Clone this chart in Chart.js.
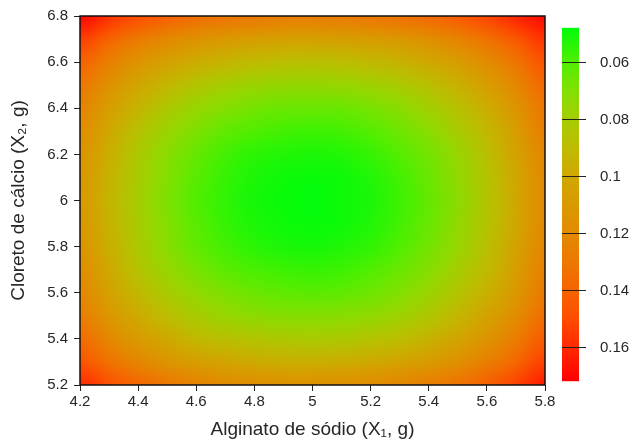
<!DOCTYPE html>
<html><head><meta charset="utf-8">
<script src="https://cdn.jsdelivr.net/npm/chart.js@4.4.1/dist/chart.umd.min.js"></script>
<style>html,body{margin:0;padding:0;background:#fff;}canvas{display:block;}</style>
</head><body>
<canvas id="c" width="631" height="442"></canvas>
<script>
// ---- data ----
const xValues = [4.2,4.3,4.4,4.5,4.6,4.7,4.8,4.9,5.0,5.1,5.2,5.3,5.4,5.5,5.6,5.7,5.8];
const yValues = [5.2,5.3,5.4,5.5,5.6,5.7,5.8,5.9,6.0,6.1,6.2,6.3,6.4,6.5,6.6,6.7,6.8];
// zValues[row j -> yValues[j]][col i -> xValues[i]]
const zValues = [
 [0.161,0.148,0.139,0.131,0.125,0.120,0.118,0.116,0.116,0.117,0.119,0.122,0.127,0.133,0.142,0.153,0.165],
 [0.147,0.133,0.122,0.113,0.107,0.103,0.099,0.097,0.097,0.098,0.100,0.104,0.109,0.116,0.126,0.138,0.154],
 [0.137,0.121,0.109,0.100,0.092,0.088,0.085,0.083,0.082,0.083,0.086,0.089,0.095,0.103,0.114,0.127,0.144],
 [0.128,0.112,0.099,0.089,0.081,0.076,0.073,0.071,0.071,0.072,0.074,0.078,0.084,0.093,0.104,0.118,0.136],
 [0.122,0.105,0.092,0.081,0.074,0.069,0.065,0.063,0.062,0.063,0.066,0.070,0.077,0.085,0.096,0.111,0.130],
 [0.118,0.100,0.086,0.076,0.068,0.062,0.059,0.057,0.056,0.057,0.060,0.065,0.071,0.080,0.091,0.107,0.126],
 [0.115,0.097,0.083,0.072,0.063,0.058,0.054,0.052,0.051,0.053,0.055,0.060,0.067,0.076,0.088,0.104,0.123],
 [0.113,0.095,0.081,0.070,0.062,0.056,0.052,0.050,0.049,0.050,0.053,0.058,0.065,0.074,0.086,0.101,0.121],
 [0.112,0.094,0.080,0.069,0.060,0.055,0.051,0.049,0.048,0.050,0.052,0.057,0.064,0.073,0.085,0.101,0.120],
 [0.113,0.095,0.081,0.070,0.062,0.056,0.052,0.050,0.049,0.050,0.053,0.058,0.065,0.074,0.086,0.101,0.121],
 [0.115,0.097,0.083,0.072,0.064,0.058,0.054,0.053,0.052,0.053,0.056,0.061,0.067,0.076,0.088,0.104,0.123],
 [0.119,0.101,0.087,0.077,0.069,0.063,0.060,0.058,0.057,0.058,0.061,0.066,0.072,0.081,0.092,0.108,0.127],
 [0.124,0.107,0.094,0.083,0.076,0.071,0.067,0.065,0.065,0.065,0.068,0.072,0.079,0.087,0.098,0.113,0.132],
 [0.131,0.115,0.102,0.093,0.085,0.080,0.077,0.075,0.075,0.076,0.078,0.082,0.088,0.096,0.107,0.121,0.139],
 [0.141,0.126,0.114,0.105,0.098,0.094,0.091,0.089,0.088,0.089,0.092,0.095,0.101,0.108,0.119,0.131,0.148],
 [0.155,0.140,0.129,0.121,0.115,0.111,0.108,0.106,0.106,0.107,0.109,0.112,0.117,0.124,0.133,0.145,0.158],
 [0.172,0.158,0.149,0.142,0.136,0.132,0.130,0.128,0.128,0.129,0.131,0.134,0.138,0.144,0.152,0.162,0.170]
];
const xTicks = [4.2,4.4,4.6,4.8,5.0,5.2,5.4,5.6,5.8];
const xTickLabels = ['4.2','4.4','4.6','4.8','5','5.2','5.4','5.6','5.8'];
const yTicks = [5.2,5.4,5.6,5.8,6.0,6.2,6.4,6.6,6.8];
const yTickLabels = ['5.2','5.4','5.6','5.8','6','6.2','6.4','6.6','6.8'];
const cbTicks = [0.06,0.08,0.10,0.12,0.14,0.16];
const cbTickLabels = ['0.06','0.08','0.1','0.12','0.14','0.16'];
const cbRange = [0.048, 0.172];
const xTitle = 'Alginato de sódio (X\u2081, g)';
const yTitle = 'Cloreto de cálcio (X\u2082, g)';
// palette (value -> colour)
const palValues = [0.048,0.06,0.07,0.08,0.09,0.10,0.11,0.12,0.13,0.14,0.15,0.16,0.172];
const palColors = [[0,252,10],[80,238,0],[130,224,0],[165,205,0],[190,188,0],[207,168,0],[217,154,0],[227,138,0],[237,120,0],[246,100,0],[255,76,0],[255,42,0],[255,0,0]];

const FONT = "'Liberation Sans', Arial, sans-serif";
const TEXT = '#262626';

function colorOf(v){
  const n = palValues.length;
  if (v <= palValues[0]) return palColors[0];
  if (v >= palValues[n-1]) return palColors[n-1];
  for (let k=1;k<n;k++){
    if (v <= palValues[k]){
      const t=(v-palValues[k-1])/(palValues[k]-palValues[k-1]);
      const a=palColors[k-1], b=palColors[k];
      return [a[0]+(b[0]-a[0])*t, a[1]+(b[1]-a[1])*t, a[2]+(b[2]-a[2])*t];
    }
  }
}
const rgb = c => `rgb(${Math.round(c[0])},${Math.round(c[1])},${Math.round(c[2])})`;

const heatmap = {
  id:'heatmap',
  beforeDatasetsDraw(chart){
    const {ctx, chartArea:a, scales:{x,y}} = chart;
    const nx=xValues.length, ny=yValues.length;
    const off=document.createElement('canvas'); off.width=nx; off.height=ny;
    const octx=off.getContext('2d'); const img=octx.createImageData(nx,ny);
    for (let j=0;j<ny;j++) for (let i=0;i<nx;i++){
      const row=ny-1-j, c=colorOf(zValues[j][i]), k=(row*nx+i)*4;
      img.data[k]=c[0]; img.data[k+1]=c[1]; img.data[k+2]=c[2]; img.data[k+3]=255;
    }
    octx.putImageData(img,0,0);
    const hx=(xValues[1]-xValues[0])/2, hy=(yValues[1]-yValues[0])/2;
    const x0=x.getPixelForValue(xValues[0]-hx), x1=x.getPixelForValue(xValues[nx-1]+hx);
    const y0=y.getPixelForValue(yValues[ny-1]+hy), y1=y.getPixelForValue(yValues[0]-hy);
    ctx.save();
    ctx.beginPath(); ctx.rect(a.left,a.top,a.right-a.left,a.bottom-a.top); ctx.clip();
    ctx.imageSmoothingEnabled=true; ctx.imageSmoothingQuality='high';
    ctx.drawImage(off,x0,y0,x1-x0,y1-y0);
    ctx.restore();
  },
  afterDraw(chart){
    const {ctx, chartArea:a, scales:{yc}} = chart;
    ctx.save();
    ctx.strokeStyle='#111'; ctx.lineWidth=1.5;
    ctx.strokeRect(a.left,a.top,a.right-a.left,a.bottom-a.top);
    // colour bar
    const bx=a.right+17, bw=17;
    const top=yc.getPixelForValue(cbRange[0]), bot=yc.getPixelForValue(cbRange[1]);
    const g=ctx.createLinearGradient(0,top,0,bot);
    for (let k=0;k<palValues.length;k++){
      const t=(palValues[k]-cbRange[0])/(cbRange[1]-cbRange[0]);
      g.addColorStop(Math.min(1,Math.max(0,t)), rgb(palColors[k]));
    }
    ctx.fillStyle=g; ctx.fillRect(bx,top,bw,bot-top);
    ctx.strokeStyle='#222'; ctx.lineWidth=1;
    ctx.fillStyle=TEXT; ctx.font='15px '+FONT; ctx.textAlign='left'; ctx.textBaseline='middle';
    cbTicks.forEach((v,i)=>{
      const py=Math.round(yc.getPixelForValue(v))+0.5;
      ctx.beginPath(); ctx.moveTo(bx,py); ctx.lineTo(bx+24,py); ctx.stroke();
      ctx.fillText(cbTickLabels[i], a.right+55, py);
    });
    ctx.restore();
  }
};

Chart.defaults.font.family = FONT;
Chart.defaults.color = TEXT;

new Chart(document.getElementById('c'), {
  type:'scatter',
  data:{datasets:[{data:[]}]},
  options:{
    responsive:false, animation:false,
    layout:{padding:{top:16,left:0,right:0,bottom:0}},
    plugins:{legend:{display:false}, tooltip:{enabled:false}},
    scales:{
      x:{type:'linear', min:4.2, max:5.8,
        afterBuildTicks:s=>{s.ticks=xTicks.map(v=>({value:v}));},
        afterFit:s=>{s.height=57;},
        ticks:{font:{size:15}, padding:2, maxRotation:0, autoSkip:false,
          callback:(v,i)=>xTickLabels[i]},
        grid:{display:true, drawOnChartArea:false, drawTicks:true, tickLength:6, color:'#222'},
        border:{display:false},
        title:{display:true, text:xTitle, font:{size:19}, padding:{top:0,bottom:1}}
      },
      y:{type:'linear', min:5.2, max:6.8,
        afterBuildTicks:s=>{s.ticks=yTicks.map(v=>({value:v}));},
        afterFit:s=>{s.width=80;},
        ticks:{font:{size:15}, padding:6, autoSkip:false,
          callback:(v,i)=>yTickLabels[i]},
        grid:{display:true, drawOnChartArea:false, drawTicks:true, tickLength:6, color:'#222'},
        border:{display:false},
        title:{display:true, text:yTitle, font:{size:19}, padding:{top:7,bottom:0}}
      },
      yc:{type:'linear', axis:'y', position:'right', reverse:true, min:0.04386, max:0.17333,
        afterBuildTicks:s=>{s.ticks=cbTicks.map(v=>({value:v}));},
        afterFit:s=>{s.width=86;},
        ticks:{display:false, padding:0},
        grid:{display:false, drawTicks:false, drawOnChartArea:false},
        border:{display:false}
      }
    }
  },
  plugins:[heatmap]
});
</script>
</body></html>
